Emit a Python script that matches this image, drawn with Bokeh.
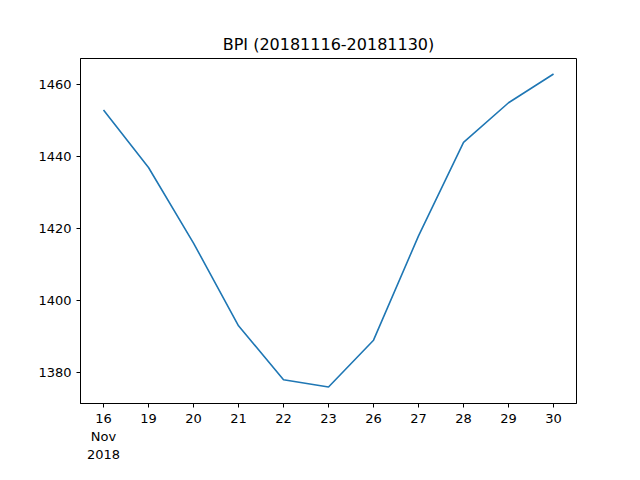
from bokeh.plotting import figure
from bokeh.models import Range1d, FixedTicker
from bokeh.embed import file_html
from bokeh.resources import INLINE

days = ["16\nNov\n2018", "19", "20", "21", "22", "23", "26", "27", "28", "29", "30"]
bpi = [1453, 1437, 1416, 1393, 1378, 1376, 1389, 1418, 1444, 1455, 1463]
yticks = [1380, 1400, 1420, 1440, 1460]

x = list(range(len(days)))
p = figure(width=624, height=464, output_backend="svg", toolbar_location=None,
           x_range=Range1d(-0.511, 10.51), y_range=Range1d(1371.4, 1467.3),
           min_border_left=80, min_border_right=48, min_border_top=58, min_border_bottom=40,
           title="BPI (20181116-20181130)")
p.line(x, bpi, line_color="#1f77b4", line_width=1.6)
p.title.align = "center"
p.title.text_font = "DejaVu Sans"
p.title.text_font_size = "16px"
p.title.text_font_style = "normal"
p.title.text_color = "black"
p.xgrid.visible = False
p.ygrid.visible = False
p.outline_line_color = "black"
p.xaxis.ticker = FixedTicker(ticks=x)
p.xaxis.major_label_overrides = {i: d for i, d in enumerate(days)}
p.xaxis.major_label_standoff = 3
p.yaxis.ticker = FixedTicker(ticks=yticks)
for ax in (p.xaxis[0], p.yaxis[0]):
    ax.major_label_text_font = "DejaVu Sans"
    ax.major_label_text_font_size = "13px"
    ax.major_label_text_color = "black"
    ax.axis_line_color = "black"
    ax.major_tick_line_color = "black"
    ax.major_tick_out = 4
    ax.major_tick_in = 0
    ax.minor_tick_line_color = None
p.background_fill_color = "white"
p.border_fill_color = "white"

open("out.html", "w").write(file_html(p, INLINE))
